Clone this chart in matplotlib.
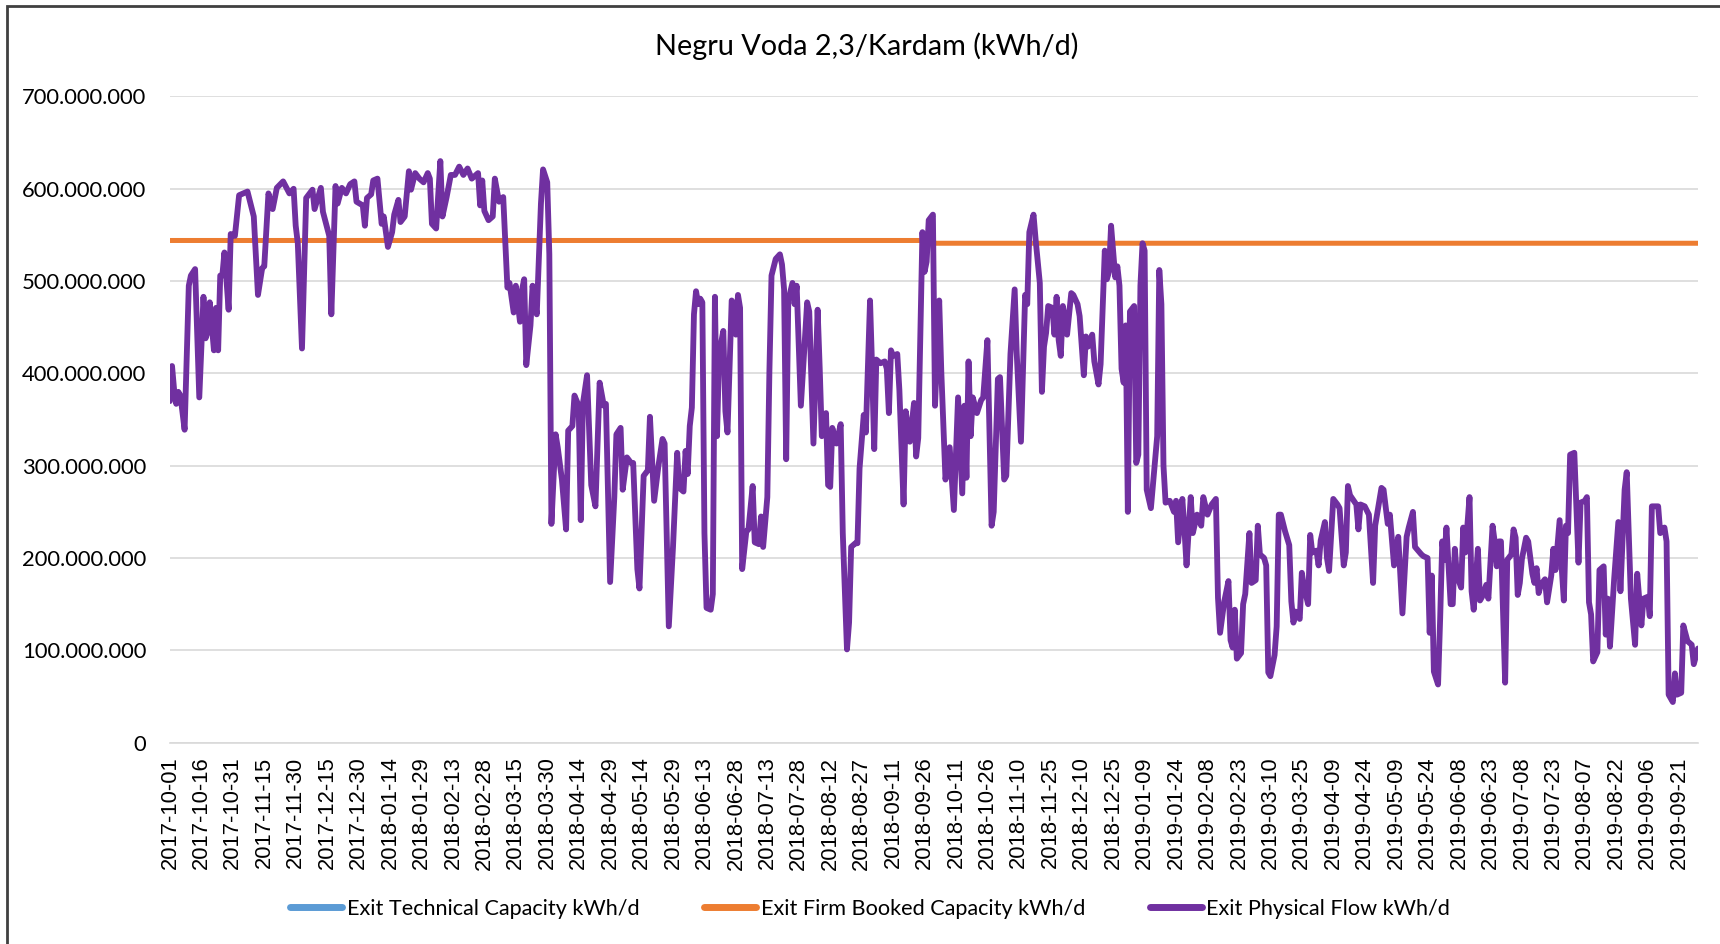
"""
    Negru Voda 2,3/Kardam - fluxos diários (kWh/d)
    Gera out.png com a capacidade reservada e o fluxo físico de saída.
"""

import matplotlib
matplotlib.use("Agg")
import matplotlib.pyplot as plt
import matplotlib.ticker as mticker
from matplotlib.patches import Rectangle
import pandas as pd

""" dados lidos do gráfico """
titulo = "Negru Voda 2,3/Kardam (kWh/d)"
data_inicio = "2017-10-01"
nome_tecnica = "Exit Technical Capacity kWh/d"
nome_reservada = "Exit Firm Booked Capacity kWh/d"
nome_fluxo = "Exit Physical Flow kWh/d"

# capacidade firme reservada (milhões kWh/d): ano gás 2017/18 e 2018/19
reservada_dias = [0, 364, 365, 729]
reservada_milhoes = [544, 544, 541, 541]

# fluxo físico: dias desde 2017-10-01 e valor em milhões de kWh/d
fluxo_dias = [
    0, 1, 2, 3, 4, 5, 7, 9, 10, 12, 14, 16, 17, 18, 19, 21, 22, 23, 24, 25,
    26, 28, 29, 31, 33, 37, 40, 42, 44, 45, 47, 49, 51, 54, 57, 59, 60, 61, 63, 65,
    68, 69, 72, 73, 76, 77, 79, 80, 82, 84, 86, 88, 89, 92, 93, 94, 96, 97, 99, 101,
    102, 104, 106, 107, 109, 110, 112, 114, 115, 117, 119, 121, 123, 124, 125, 127, 129, 130, 132, 134,
    136, 138, 140, 142, 144, 147, 148, 149, 150, 152, 154, 155, 157, 159, 161, 162, 164, 165, 167, 168,
    169, 170, 172, 173, 175, 177, 178, 180, 181, 182, 184, 185, 187, 189, 190, 192, 193, 195, 196, 197,
    199, 201, 203, 205, 207, 208, 210, 212, 213, 215, 216, 218, 220, 221, 223, 224, 226, 228, 229, 231,
    233, 235, 236, 238, 240, 242, 243, 245, 246, 247, 248, 249, 250, 251, 252, 253, 254, 255, 256, 258,
    259, 260, 261, 262, 264, 265, 266, 268, 269, 270, 271, 272, 273, 275, 276, 278, 279, 281, 282, 283,
    285, 286, 287, 289, 291, 292, 293, 294, 295, 297, 298, 299, 301, 302, 304, 305, 307, 309, 310, 311,
    313, 314, 315, 316, 318, 320, 321, 323, 324, 325, 327, 328, 329, 331, 332, 334, 335, 336, 337, 339,
    341, 342, 343, 344, 345, 347, 348, 350, 351, 353, 355, 356, 357, 359, 360, 361, 362, 364, 365, 367,
    368, 370, 372, 374, 376, 378, 379, 380, 381, 382, 383, 385, 387, 388, 390, 392, 393, 395, 396, 398,
    399, 401, 403, 404, 406, 408, 409, 410, 412, 413, 415, 416, 417, 418, 419, 421, 422, 423, 424, 425,
    426, 427, 428, 430, 431, 433, 434, 436, 437, 438, 440, 441, 443, 444, 446, 447, 448, 449, 451, 452,
    453, 454, 455, 456, 457, 458, 460, 461, 462, 463, 464, 465, 466, 468, 471, 472, 473, 474, 475, 477,
    479, 480, 481, 483, 484, 485, 487, 488, 490, 492, 493, 495, 497, 499, 500, 501, 503, 505, 506, 507,
    508, 509, 511, 512, 513, 515, 516, 518, 519, 520, 522, 523, 524, 525, 527, 528, 529, 530, 532, 534,
    535, 536, 537, 539, 540, 541, 543, 544, 545, 547, 548, 549, 551, 552, 553, 555, 557, 558, 560, 561,
    562, 563, 566, 567, 568, 570, 572, 574, 575, 578, 579, 581, 582, 584, 586, 588, 590, 591, 593, 594,
    597, 598, 600, 601, 602, 603, 605, 606, 607, 608, 609, 611, 612, 613, 614, 616, 617, 618, 620, 621,
    622, 624, 625, 626, 628, 629, 631, 632, 633, 634, 635, 637, 638, 640, 641, 642, 643, 644, 645, 647,
    648, 650, 651, 652, 653, 654, 656, 657, 659, 660, 661, 663, 664, 665, 666, 667, 668, 670, 672, 673,
    675, 676, 677, 678, 679, 681, 682, 684, 685, 686, 687, 689, 691, 692, 694, 695, 697, 699, 700, 702,
    703, 705, 706, 707, 710, 711, 713, 714, 715, 717, 718, 719, 721, 722, 724, 726, 727, 729,
]
fluxo_milhoes = [
    370, 408, 382, 367, 380, 376, 339, 495, 506, 513, 374, 483, 438, 445, 477, 425, 471, 425, 506, 506,
    531, 469, 551, 549, 593, 597, 570, 485, 514, 516, 595, 578, 601, 608, 595, 600, 560, 541, 427, 590,
    599, 578, 601, 575, 549, 464, 603, 584, 601, 595, 605, 608, 586, 582, 560, 590, 594, 609, 611, 562,
    570, 537, 553, 572, 588, 564, 570, 619, 599, 617, 611, 607, 617, 611, 562, 557, 630, 570, 591, 615,
    615, 624, 615, 622, 611, 617, 582, 609, 576, 566, 570, 611, 586, 591, 493, 498, 466, 495, 456, 491,
    502, 409, 452, 495, 464, 584, 621, 607, 529, 237, 334, 320, 285, 231, 338, 343, 376, 365, 241, 367,
    398, 279, 256, 390, 365, 367, 174, 266, 334, 341, 274, 309, 303, 303, 188, 167, 289, 295, 353, 262,
    299, 329, 324, 126, 212, 314, 276, 272, 316, 291, 343, 363, 464, 489, 475, 481, 477, 227, 146, 144,
    161, 483, 332, 421, 446, 359, 336, 479, 475, 442, 485, 471, 188, 229, 231, 278, 217, 215, 245, 212,
    266, 403, 506, 524, 529, 518, 491, 307, 479, 498, 475, 495, 365, 402, 477, 467, 324, 469, 405, 332,
    357, 279, 277, 341, 324, 345, 227, 101, 130, 212, 216, 216, 297, 355, 336, 479, 405, 318, 415, 411,
    413, 405, 357, 425, 419, 421, 382, 258, 359, 326, 368, 310, 330, 553, 510, 521, 566, 572, 365, 479,
    402, 285, 320, 252, 374, 270, 365, 287, 413, 332, 374, 357, 371, 374, 436, 235, 250, 394, 396, 285,
    289, 421, 491, 421, 326, 485, 475, 553, 572, 545, 498, 380, 429, 444, 473, 471, 442, 483, 436, 419,
    473, 460, 442, 487, 485, 475, 462, 398, 440, 429, 442, 413, 388, 410, 533, 502, 510, 560, 504, 516,
    495, 405, 390, 452, 250, 467, 473, 303, 312, 495, 541, 533, 274, 254, 332, 512, 475, 300, 260, 262,
    250, 262, 217, 264, 231, 192, 266, 227, 247, 235, 266, 247, 258, 264, 157, 119, 153, 175, 111, 103,
    144, 91, 97, 150, 161, 227, 173, 176, 235, 204, 200, 192, 76, 72, 95, 126, 247, 247, 229, 214,
    153, 130, 142, 134, 184, 169, 150, 225, 206, 208, 192, 219, 239, 200, 186, 264, 258, 254, 192, 206,
    278, 268, 258, 231, 258, 256, 247, 173, 235, 276, 274, 237, 247, 192, 223, 140, 223, 233, 250, 212,
    204, 202, 200, 119, 181, 77, 63, 135, 218, 198, 233, 150, 150, 210, 181, 168, 233, 206, 266, 164,
    144, 210, 154, 158, 171, 156, 235, 218, 191, 218, 218, 65, 198, 204, 231, 222, 160, 173, 199, 222,
    218, 183, 173, 189, 162, 171, 177, 152, 181, 210, 187, 241, 189, 154, 235, 227, 312, 314, 195, 260,
    262, 266, 152, 139, 88, 98, 187, 191, 117, 156, 104, 177, 239, 164, 274, 293, 156, 106, 183, 127,
    156, 158, 137, 256, 256, 227, 233, 218, 52, 44, 75, 52, 54, 127, 110, 106, 85, 102,
]

""" estilo """
COR_TECNICA = "#5B9BD5"
COR_RESERVADA = "#ED7D31"
COR_FLUXO = "#7030A0"
COR_GRADE = "#D9D9D9"
FONTE = "Lato"


def para_datas(dias):
    """Converte dias desde a data de início em datas."""
    return pd.Timestamp(data_inicio) + pd.to_timedelta(dias, unit="D")


def formatar_milhares(valor, pos):
    """Formata o eixo y com ponto como separador de milhar."""
    return f"{int(round(valor)):,}".replace(",", ".")


def plotar():
    plt.rcParams["font.family"] = [FONTE, "DejaVu Sans"]

    fig = plt.figure(figsize=(17.2, 9.44), dpi=100)
    ax = fig.add_axes([0.0988, 0.2133, 0.8884, 0.6845])

    datas_fluxo = para_datas(fluxo_dias)
    datas_reservada = para_datas(reservada_dias)
    valores_fluxo = [v * 1e6 for v in fluxo_milhoes]
    valores_reservada = [v * 1e6 for v in reservada_milhoes]

    # a capacidade técnica não aparece no gráfico, só na legenda
    ax.plot([], [], color=COR_TECNICA, linewidth=3.6, solid_capstyle="round", label=nome_tecnica)
    ax.plot(datas_reservada, valores_reservada, color=COR_RESERVADA, linewidth=3.6,
            solid_capstyle="round", label=nome_reservada, zorder=3)
    ax.plot(datas_fluxo, valores_fluxo, color=COR_FLUXO, linewidth=4.2,
            solid_joinstyle="round", solid_capstyle="round", label=nome_fluxo, zorder=4)

    # eixo y
    ax.set_ylim(0, 700e6)
    ax.yaxis.set_major_locator(mticker.MultipleLocator(100e6))
    ax.yaxis.set_major_formatter(mticker.FuncFormatter(formatar_milhares))
    ax.grid(axis="y", color=COR_GRADE, linewidth=1.2)
    ax.set_axisbelow(True)

    # eixo x: um rótulo a cada 15 dias
    inicio = pd.Timestamp(data_inicio)
    ticks = pd.date_range(inicio, periods=49, freq="15D")
    ax.set_xticks(ticks)
    ax.set_xticklabels([t.strftime("%Y-%m-%d") for t in ticks], rotation=90,
                       fontsize=15.8, family=["Liberation Sans", "DejaVu Sans"])
    ax.set_xlim(inicio, inicio + pd.Timedelta(days=729))

    for lado in ["top", "right", "left"]:
        ax.spines[lado].set_visible(False)
    ax.spines["bottom"].set_color(COR_GRADE)
    ax.spines["bottom"].set_linewidth(1.2)
    ax.tick_params(axis="y", length=0, labelsize=15.8, pad=17)
    ax.tick_params(axis="x", length=0, pad=10)

    fig.text(0.504, 1 - 46 / 944, titulo, ha="center", va="center", fontsize=20.8)

    leg = fig.legend(loc="center", bbox_to_anchor=(0.506, 1 - 909 / 944), ncol=3, frameon=False,
                     fontsize=15.6, handlelength=2.4, handletextpad=0.2, columnspacing=3.0)
    for linha in leg.get_lines():
        linha.set_linewidth(5)

    # moldura externa (apenas topo e esquerda visíveis)
    fig.patches.append(Rectangle((7 / 1720, -0.05), 1.2, 1 - 6 / 944 + 0.05, fill=False,
                                 edgecolor="#404040", linewidth=2, transform=fig.transFigure))

    fig.savefig("out.png", dpi=100, facecolor="white")


plotar()
